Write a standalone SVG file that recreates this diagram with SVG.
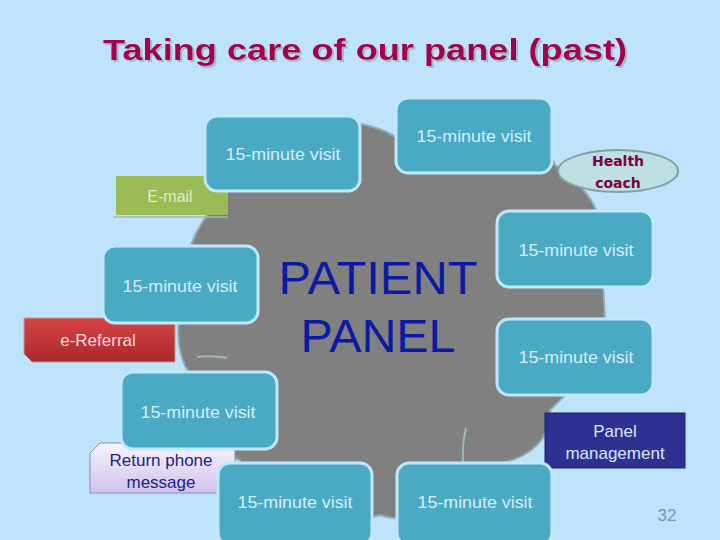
<svg xmlns="http://www.w3.org/2000/svg" width="720" height="540" viewBox="0 0 720 540">
<defs>
<linearGradient id="gRed" x1="0" y1="0" x2="0" y2="1"><stop offset="0" stop-color="#D84444"/><stop offset="1" stop-color="#A8282C"/></linearGradient>
<linearGradient id="gLav" x1="0" y1="0" x2="0" y2="1"><stop offset="0" stop-color="#F8F4FF"/><stop offset="1" stop-color="#D2C2EC"/></linearGradient>
<filter id="tshadow" x="-5%" y="-30%" width="110%" height="160%"><feDropShadow dx="2" dy="2" stdDeviation="0.6" flood-color="#8A96A0" flood-opacity="0.55"/></filter>
<style>
.visit{fill:#4AAAC4;stroke:#BFE9FA;stroke-width:3}
.vt{font-family:"Liberation Sans",Arial,sans-serif;font-size:17px;fill:#D6EFF7;text-anchor:middle}
.lbl{font-family:"Liberation Sans",Arial,sans-serif;text-anchor:middle}
</style>
</defs>
<rect width="720" height="540" fill="#BEE3FA"/>
<g id="title">
<text x="365" y="60" class="lbl" font-size="30" font-weight="bold" fill="#A3004E" filter="url(#tshadow)" textLength="524" lengthAdjust="spacingAndGlyphs">Taking care of our panel (past)</text>
</g>
<g id="patient-panel">
<path d="M220 200 C215 150 300 110 365 125 C390 130 400 140 410 150 C450 100 540 120 555 165 C575 180 600 200 600 230 L605 320 C605 360 570 390 550 410 C550 440 530 460 490 465 C470 520 410 525 380 515 C330 530 260 510 240 460 C210 450 190 420 195 380 C175 360 175 320 185 300 C180 260 195 225 220 200 Z" fill="#808080" stroke="#8FAAB2" stroke-width="2"/>
<path d="M197 357 Q212 355 227 358" fill="none" stroke="#9FB8BE" stroke-width="2"/>
<path d="M466 428 Q462 445 463 462" fill="none" stroke="#9FB8BE" stroke-width="2"/>
<text x="378" y="294" class="lbl" font-size="46" fill="#0B1AA2" textLength="199" lengthAdjust="spacingAndGlyphs">PATIENT</text>
<text x="378" y="352" class="lbl" font-size="46" fill="#0B1AA2" textLength="155" lengthAdjust="spacingAndGlyphs">PANEL</text>
</g>
<g id="email">
<line x1="113" y1="217" x2="228" y2="217" stroke="#9FB7C4" stroke-width="1.5"/>
<rect x="116" y="176" width="112" height="39" fill="#9BBB55"/>
<text x="170" y="202" class="lbl" font-size="16" fill="#DDEEC8">E-mail</text>
</g>
<g id="e-referral">
<path d="M24 318 H175 V362 H32 L24 354 Z" fill="url(#gRed)" stroke="#B8A0A4" stroke-width="1"/>
<text x="98" y="346" class="lbl" font-size="17" fill="#F4DCE0">e-Referral</text>
</g>
<g id="return-phone">
<path d="M100 443 H235 V493 H90 V453 Z" fill="url(#gLav)" stroke="#8A8CB8" stroke-width="1"/>
<text x="161" y="466" class="lbl" font-size="17" fill="#1A237E">Return phone</text>
<text x="161" y="488" class="lbl" font-size="17" fill="#1A237E">message</text>
</g>
<g id="health-coach">
<ellipse cx="618" cy="171" rx="60" ry="21" fill="#BEE0E2" stroke="#82A0A4" stroke-width="2"/>
<text x="618" y="166" class="lbl" font-size="14" font-weight="bold" fill="#7A0042" style="font-family:'DejaVu Sans',sans-serif">Health</text>
<text x="618" y="188" class="lbl" font-size="14" font-weight="bold" fill="#7A0042" style="font-family:'DejaVu Sans',sans-serif">coach</text>
</g>
<g id="panel-management">
<rect x="545" y="413" width="140" height="55" fill="#2E3192" stroke="#1E2070" stroke-width="1"/>
<text x="615" y="437" class="lbl" font-size="17" fill="#DCE6F8">Panel</text>
<text x="615" y="459" class="lbl" font-size="17" fill="#DCE6F8">management</text>
</g>
<g id="visit-1"><rect class="visit" x="205" y="116" width="155" height="75" rx="12"/><text class="vt" x="283" y="160" textLength="115" lengthAdjust="spacingAndGlyphs">15-minute visit</text></g>
<g id="visit-2"><rect class="visit" x="396" y="98" width="156" height="75" rx="12"/><text class="vt" x="474" y="142" textLength="115" lengthAdjust="spacingAndGlyphs">15-minute visit</text></g>
<g id="visit-3"><rect class="visit" x="103" y="246" width="155" height="77" rx="12"/><text class="vt" x="180" y="292" textLength="115" lengthAdjust="spacingAndGlyphs">15-minute visit</text></g>
<g id="visit-4"><rect class="visit" x="497" y="211" width="156" height="76" rx="12"/><text class="vt" x="576" y="256" textLength="115" lengthAdjust="spacingAndGlyphs">15-minute visit</text></g>
<g id="visit-5"><rect class="visit" x="497" y="319" width="156" height="76" rx="12"/><text class="vt" x="576" y="363" textLength="115" lengthAdjust="spacingAndGlyphs">15-minute visit</text></g>
<g id="visit-6"><rect class="visit" x="121" y="372" width="156" height="77" rx="12"/><text class="vt" x="198" y="418" textLength="115" lengthAdjust="spacingAndGlyphs">15-minute visit</text></g>
<g id="visit-7"><rect class="visit" x="218" y="463" width="154" height="82" rx="12"/><text class="vt" x="295" y="508" textLength="115" lengthAdjust="spacingAndGlyphs">15-minute visit</text></g>
<g id="visit-8"><rect class="visit" x="397" y="463" width="155" height="82" rx="12"/><text class="vt" x="475" y="508" textLength="115" lengthAdjust="spacingAndGlyphs">15-minute visit</text></g>
<g id="connectors"/>
<text x="667" y="521" class="lbl" font-size="17" fill="#7F8FBF">32</text>
</svg>
